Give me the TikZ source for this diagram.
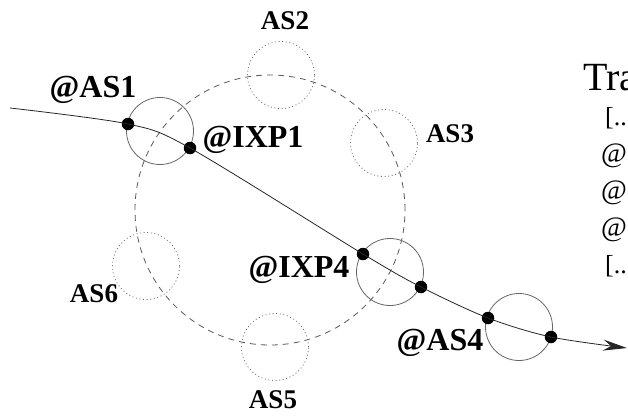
\documentclass[tikz,border=0pt]{standalone}
\usepackage{fontspec}
\setmainfont{Liberation Serif}
\usetikzlibrary{arrows.meta}
\begin{document}
\begin{tikzpicture}[x=1pt,y=-1pt,
  ring/.style={circle, draw=black!65, dash pattern=on 6pt off 5pt, line width=0.8pt, minimum size=270pt, inner sep=0pt},
  asc/.style={circle, draw=black!55, dash pattern=on 1pt off 2.6pt, line width=0.8pt, minimum size=67pt, inner sep=0pt},
  sol/.style={circle, draw=black!60, line width=0.8pt, minimum size=67pt, inner sep=0pt},
  hop/.style={circle, fill=black, inner sep=0pt, minimum size=12.5pt},
  lab/.style={font=\fontsize{27}{27}\selectfont\bfseries, anchor=base, inner sep=0pt},
  alab/.style={font=\fontsize{32}{32}\selectfont\bfseries, anchor=base, inner sep=0pt},
  trace/.style={font=\fontsize{26}{26}\selectfont, anchor=base west, inner sep=0pt},
  traceat/.style={font=\fontsize{28}{28}\selectfont, anchor=base west, inner sep=0pt},
  route/.style={draw=black!85, line width=0.8pt, -{Stealth[length=24pt,width=11pt,inset=8pt]}}
]
\useasboundingbox (0,0) rectangle (628,416);
\clip (0,0) rectangle (628,416);

% big dashed ring
\node[ring] (big) at (270,210) {};

% dotted AS circles
\node[asc] (as2) at (281,75) {};
\node[asc] (as3) at (384,143) {};
\node[asc] (as6) at (146,266) {};
\node[asc] (as5) at (275,347) {};

% solid circles
\node[sol] (c1) at (160,131) {};
\node[sol] (c4) at (390,272) {};
\node[sol] (c5) at (519,327) {};

% hops
\coordinate (start) at (10,108);
\coordinate (end) at (627,348);
\node[hop] (h1) at (128,124) {};
\node[hop] (h2) at (190,148) {};
\node[hop] (h3) at (363,254) {};
\node[hop] (h4) at (421,287) {};
\node[hop] (h5) at (488,318) {};
\node[hop] (h6) at (551,337) {};

\draw[route] plot[smooth, tension=0.5] coordinates {(start) (h1) (h2) (h3) (h4) (h5) (h6) (end)};

% labels
\node[alab] (l1) at (93,97) {@AS1};
\node[alab] (l2) at (253,147) {@IXP1};
\node[alab] (l3) at (299,277) {@IXP4};
\node[alab] (l4) at (440,350) {@AS4};
\node[lab] (t2) at (285,29) {AS2};
\node[lab] (t3) at (450,142) {AS3};
\node[lab] (t6) at (94,302) {AS6};
\node[lab] (t5) at (273,408) {AS5};

% trace text
\node[font=\fontsize{40}{40}\selectfont, anchor=base west, inner sep=0pt] (tra) at (583,90) {Tra};
\node[trace] (r1) at (605,125) {[..};
\node[traceat] (r2) at (601,162) {@};
\node[traceat] (r3) at (601,199) {@};
\node[traceat] (r4) at (601,236) {@};
\node[trace] (r5) at (605,273) {[..};
\end{tikzpicture}
\end{document}
